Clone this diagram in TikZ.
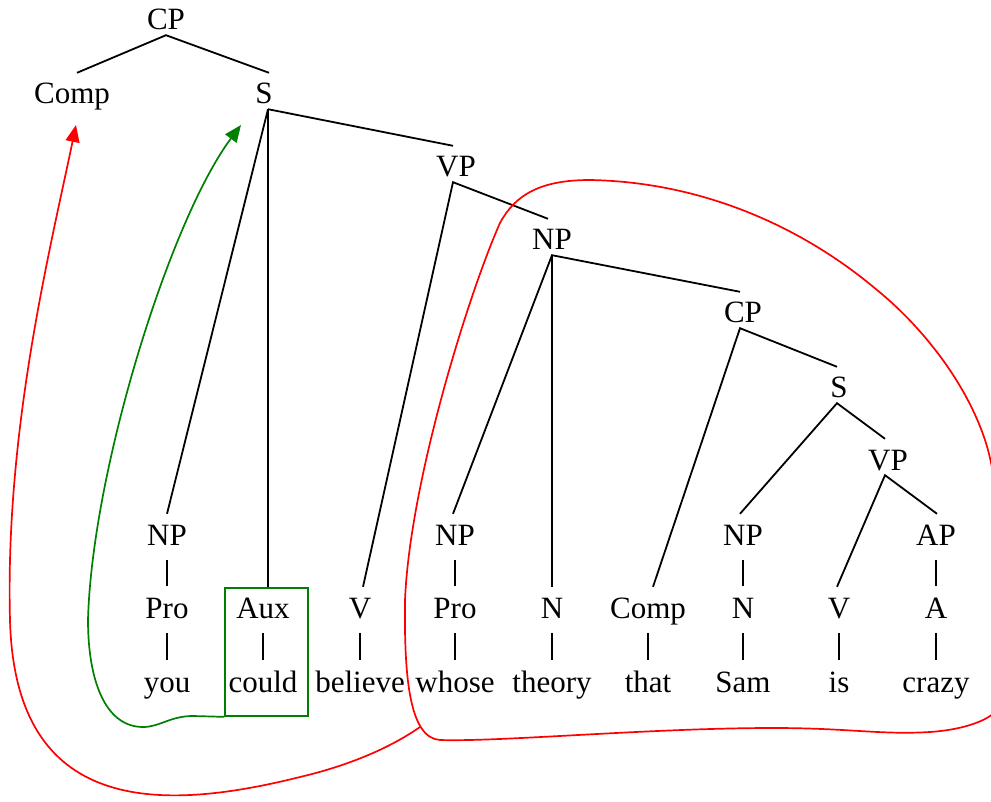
\documentclass[tikz,border=0pt]{standalone}
\usepackage{fontspec}
\setmainfont{Liberation Serif}
\usetikzlibrary{arrows.meta}
\definecolor{dgreen}{RGB}{0,128,0}
\begin{document}
\begin{tikzpicture}[x=1pt,y=-1pt,
  lab/.style={inner sep=0pt, text height=31pt, text depth=5pt, anchor=base,
              font=\fontsize{31}{36}\selectfont},
  br/.style={line width=1.8pt},
  unary/.style={line width=1.1pt, shorten <=10pt, shorten >=1pt},
  gline/.style={draw=dgreen, line width=1.7pt},
  rline/.style={draw=red, line width=1.7pt},
  tip/.style={-{Triangle[length=17pt,width=14pt]}}]
\useasboundingbox (0,0) rectangle (991,802);

% upper tree
\node[lab] (cp0) at (166,30) {CP};
\node[lab] (comp1) at (72,104) {Comp};
\node[lab] (s1) at (264,104) {S};
\node[lab] (vp2) at (456,177) {VP};
\node[lab] (np3) at (552,250) {NP};
\node[lab] (cp4) at (743,323) {CP};
\node[lab] (s5) at (839,398) {S};
\node[lab] (vp6) at (888,470) {VP};

% row of phrases
\node[lab] (np7a) at (167,545) {NP};
\node[lab] (np7b) at (455,545) {NP};
\node[lab] (np7c) at (743,545) {NP};
\node[lab] (ap7) at (936,545) {AP};

% pre-terminals
\node[lab] (pro8a) at (167,618) {Pro};
\node[lab] (aux8) at (263,618) {Aux};
\node[lab] (v8a) at (360,618) {V};
\node[lab] (pro8b) at (455,618) {Pro};
\node[lab] (n8a) at (552,618) {N};
\node[lab] (comp8) at (648,618) {Comp};
\node[lab] (n8b) at (743,618) {N};
\node[lab] (v8b) at (839,618) {V};
\node[lab] (a8) at (936,618) {A};

% words
\node[lab] (w1) at (167,692) {you};
\node[lab] (w2) at (263,692) {could};
\node[lab] (w3) at (360,692) {believe};
\node[lab] (w4) at (455,692) {whose};
\node[lab] (w5) at (552,692) {theory};
\node[lab] (w6) at (648,692) {that};
\node[lab] (w7) at (743,692) {Sam};
\node[lab] (w8) at (839,692) {is};
\node[lab] (w9) at (936,692) {crazy};

% branches
\draw[br] ([xshift=5pt]comp1.north) -- (cp0.south) -- ([xshift=5pt]s1.north);
\draw[br] ([xshift=4pt]s1.south) -- ([xshift=-3pt]vp2.north);
\draw[br] ([xshift=4pt]s1.south) -- (np7a.north);
\draw[br] ([xshift=4pt]s1.south) -- ([xshift=5pt]aux8.north);
\draw[br] ([xshift=-4pt]np3.north) -- ([xshift=-3pt]vp2.south) -- ([xshift=3pt]v8a.north);
\draw[br] ([xshift=-2pt]np7b.north) -- (np3.south) -- ([xshift=-3pt]cp4.north);
\draw[br] (np3.south) -- (n8a.north);
\draw[br] ([xshift=5pt]comp8.north) -- ([xshift=-3pt]cp4.south) -- ([xshift=-2pt]s5.north);
\draw[br] ([xshift=-3pt]np7c.north) -- ([xshift=-2pt]s5.south) -- ([xshift=-3pt]vp6.north);
\draw[br] ([xshift=-2pt]v8b.north) -- ([xshift=-3pt]vp6.south) -- ([xshift=1pt]ap7.north);

% unary bars
\draw[unary] (np7a.south) -- (pro8a.north);
\draw[unary] (pro8a.south) -- (w1.north);
\draw[unary] (aux8.south) -- (w2.north);
\draw[unary] (v8a.south) -- (w3.north);
\draw[unary] (np7b.south) -- (pro8b.north);
\draw[unary] (pro8b.south) -- (w4.north);
\draw[unary] (n8a.south) -- (w5.north);
\draw[unary] (comp8.south) -- (w6.north);
\draw[unary] (np7c.south) -- (n8b.north);
\draw[unary] (n8b.south) -- (w7.north);
\draw[unary] (v8b.south) -- (w8.north);
\draw[unary] (ap7.south) -- (a8.north);
\draw[unary] (a8.south) -- (w9.north);

% green box and movement arrow
\node[draw=dgreen, line width=1.7pt, minimum width=83pt, minimum height=128pt,
      inner sep=0pt] (auxbox) at (266.5,652) {};
\coordinate (gtip) at (241,125);
\draw[gline,tip] (auxbox.south west) -- (193,716)
  .. controls (170,716) and (160,727) .. (143,727)
  .. controls (105,727) and (88,680) .. (88,620)
  .. controls (92,470) and (170,220) .. (gtip);

% red enclosure
\draw[rline] (440,740) .. controls (500,742) and (650,728) .. (773,728)
  .. controls (850,728) and (880,735) .. (930,732)
  .. controls (960,730) and (985,722) .. (995,712)
  .. controls (1010,650) and (1005,500) .. (985,440)
  .. controls (965,380) and (920,325) .. (877,290)
  .. controls (800,225) and (700,182) .. (590,180)
  .. controls (540,180) and (515,195) .. (500,223)
  .. controls (470,290) and (410,480) .. (405,600)
  .. controls (404,680) and (410,738) .. (440,740) -- cycle;

% red movement arrow
\coordinate (rstart) at (420,727);
\coordinate (rtip) at (76,125);
\draw[rline,tip] (rstart) .. controls (380,755) and (330,770) .. (300,777)
  .. controls (160,812) and (15,815) .. (10,620)
  .. controls (5,430) and (50,250) .. (rtip);
\end{tikzpicture}
\end{document}
